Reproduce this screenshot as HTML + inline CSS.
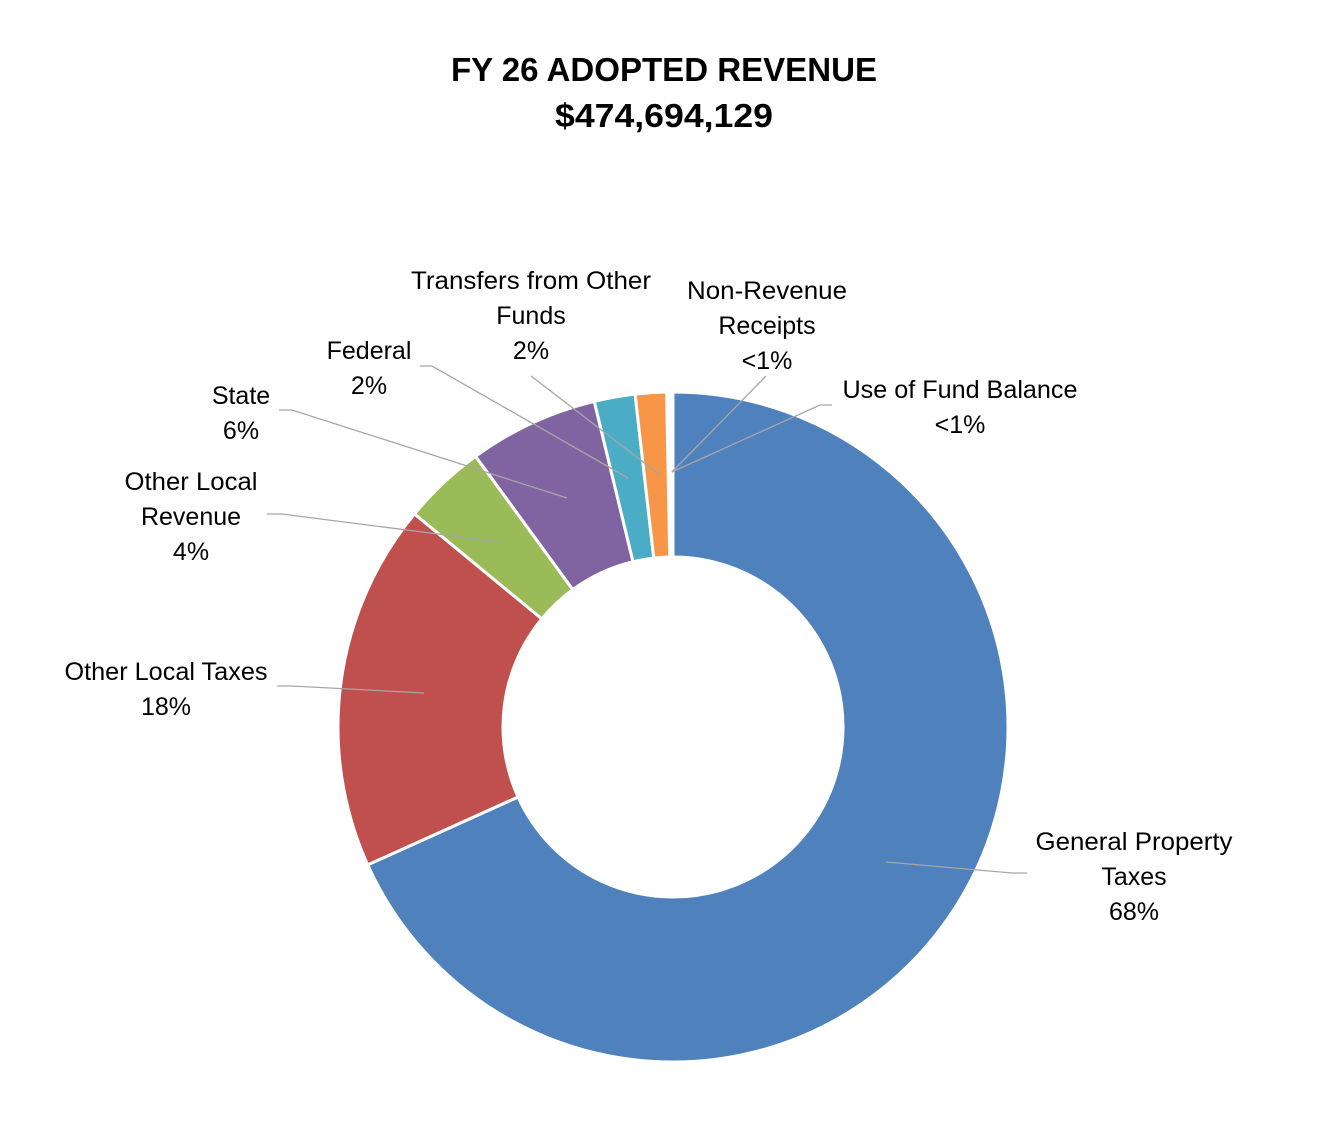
<!DOCTYPE html>
<html><head><meta charset="utf-8"><style>
html,body{margin:0;padding:0;background:#fff}
svg text{font-family:"Liberation Sans",sans-serif;fill:#000}
</style></head><body>
<svg id="s" width="1340" height="1137" viewBox="0 0 1340 1137" xmlns="http://www.w3.org/2000/svg">
<rect width="1340" height="1137" fill="#fff"/>
<g id="pie"></g>
<g stroke="#a6a6a6" stroke-width="1.3" fill="none">
<polyline points="1027,873 1012,873 886,862"/>
<polyline points="277,686 292,686 424,693"/>
<polyline points="267,514 282,514 500,542"/>
<polyline points="279,410 292,410 567,498"/>
<polyline points="420,366 432,366 628,478"/>
<polyline points="531,376 660,475"/>
<polyline points="766,376 672,472"/>
<polyline points="832,405 820,405 672,472"/>
</g>
<g font-weight="bold" font-size="33" text-anchor="middle">
<text x="664" y="81" textLength="426" lengthAdjust="spacingAndGlyphs">FY 26 ADOPTED REVENUE</text>
<text x="664" y="127" textLength="218" lengthAdjust="spacingAndGlyphs">$474,694,129</text>
</g>
<g font-size="25" text-anchor="middle">
<text x="1134" y="850" textLength="197" lengthAdjust="spacingAndGlyphs">General Property</text>
<text x="1134" y="885">Taxes</text>
<text x="1134" y="920">68%</text>
<text x="166" y="680" textLength="203" lengthAdjust="spacingAndGlyphs">Other Local Taxes</text>
<text x="166" y="715">18%</text>
<text x="191" y="490" textLength="133" lengthAdjust="spacingAndGlyphs">Other Local</text>
<text x="191" y="525">Revenue</text>
<text x="191" y="560">4%</text>
<text x="241" y="404">State</text>
<text x="241" y="439">6%</text>
<text x="369" y="359">Federal</text>
<text x="369" y="394">2%</text>
<text x="531" y="289" textLength="240" lengthAdjust="spacingAndGlyphs">Transfers from Other</text>
<text x="531" y="324">Funds</text>
<text x="531" y="359">2%</text>
<text x="767" y="299" textLength="160" lengthAdjust="spacingAndGlyphs">Non-Revenue</text>
<text x="767" y="334">Receipts</text>
<text x="767" y="369">&lt;1%</text>
<text x="960" y="398" textLength="235" lengthAdjust="spacingAndGlyphs">Use of Fund Balance</text>
<text x="960" y="433">&lt;1%</text>
</g>
</svg>
<script>
(function(){
var cx=673,cy=727,R=335,r=170;
var seg=[[0,245.7,"#4f81bd"],[245.7,309.5,"#c0504d"],[309.5,323.9,"#9bbb59"],[323.9,346.4,"#8064a2"],[346.4,353.5,"#4bacc6"],[353.5,358.9,"#f79646"]];
function p(a,rad){var t=a*Math.PI/180;return [cx+rad*Math.sin(t),cy-rad*Math.cos(t)];}
var g=document.getElementById("pie"),h="";
seg.forEach(function(s){var a=s[0],b=s[1],L=(b-a)>180?1:0;
var p1=p(a,R),p2=p(b,R),p3=p(b,r),p4=p(a,r);
h+='<path d="M'+p1+' A'+R+','+R+' 0 '+L+' 1 '+p2+' L'+p3+' A'+r+','+r+' 0 '+L+' 0 '+p4+' Z" fill="'+s[2]+'" stroke="#fff" stroke-width="3"/>';});
g.innerHTML=h;
})();
</script>
</body></html>
